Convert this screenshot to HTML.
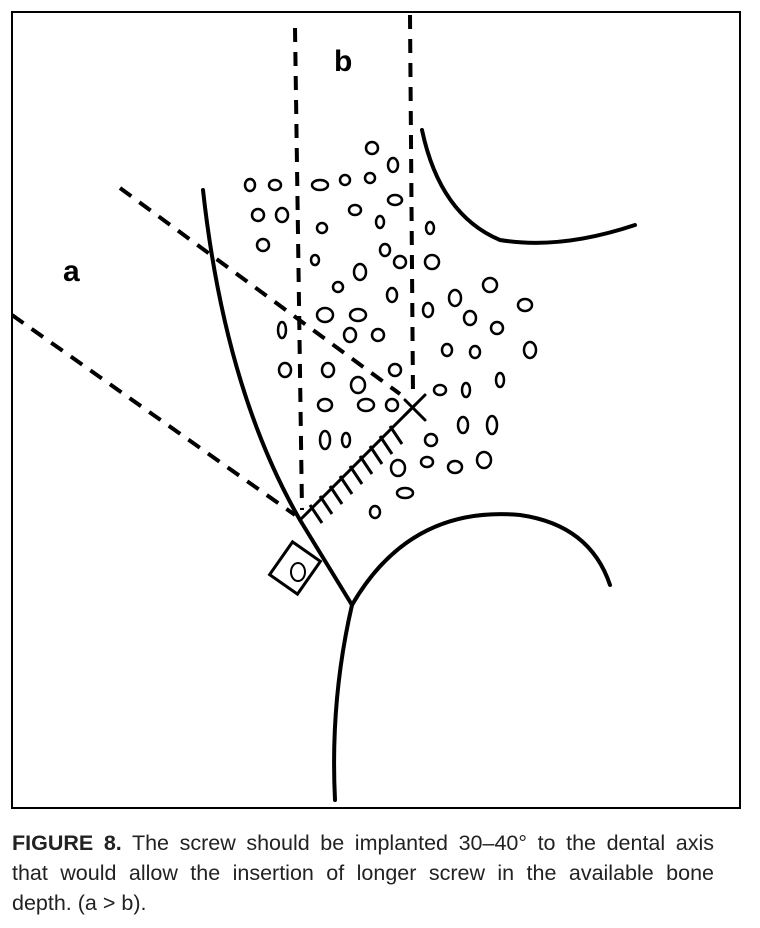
<!DOCTYPE html>
<html><head><style>
body{margin:0;background:#fff;width:760px;height:928px;overflow:hidden}
.cap{position:absolute;left:12px;top:828px;width:702px;font:21.5px/30px "Liberation Sans",sans-serif;color:#222}
.cap div{text-align:justify;text-align-last:justify;white-space:nowrap}
.cap div.l{text-align-last:left}
</style></head><body>
<svg width="760" height="820" style="position:absolute;left:0;top:0">
<rect x="12" y="12" width="728" height="796" fill="none" stroke="#000" stroke-width="2"/>
<g stroke="#000" stroke-width="4" fill="none" stroke-dasharray="14,10">
<line x1="295" y1="28" x2="302" y2="510"/>
<line x1="410" y1="15" x2="413" y2="395"/>
<line x1="120" y1="188" x2="400" y2="394"/>
<line x1="12" y1="315" x2="295" y2="515"/>
</g>
<g stroke="#000" fill="none" stroke-linecap="round">
<path d="M203 190 Q225 390 300 520 L352 605" stroke-width="4"/>
<path d="M352 605 Q330 700 335 800" stroke-width="4"/>
<path d="M352 605 Q410 505 520 515 Q590 525 610 585" stroke-width="4"/>
<path d="M422 130 Q440 215 500 240 Q560 250 635 225" stroke-width="4"/>
<path d="M300 520 L415 405" stroke-width="3"/>
<path d="M405 400 L425 420 M405 415 L425 395" stroke-width="3"/>
</g>
<g stroke="#000" stroke-width="3">
<line x1="310" y1="505" x2="322" y2="523"/><line x1="320" y1="496" x2="332" y2="514"/><line x1="330" y1="486" x2="342" y2="504"/><line x1="340" y1="476" x2="352" y2="494"/><line x1="350" y1="466" x2="362" y2="484"/><line x1="360" y1="456" x2="372" y2="474"/><line x1="370" y1="446" x2="382" y2="464"/><line x1="380" y1="436" x2="392" y2="454"/><line x1="390" y1="426" x2="402" y2="444"/>
</g>
<rect x="278" y="548" width="34" height="40" transform="rotate(35 295 568)" fill="none" stroke="#000" stroke-width="3"/>
<ellipse cx="298" cy="572" rx="7" ry="9" fill="none" stroke="#000" stroke-width="2"/>
<g fill="none" stroke="#000" stroke-width="2.5">
<ellipse cx="372" cy="148" rx="6" ry="6"/><ellipse cx="393" cy="165" rx="5" ry="7"/><ellipse cx="345" cy="180" rx="5" ry="5"/><ellipse cx="370" cy="178" rx="5" ry="5"/><ellipse cx="320" cy="185" rx="8" ry="5"/>
<ellipse cx="250" cy="185" rx="5" ry="6"/><ellipse cx="275" cy="185" rx="6" ry="5"/><ellipse cx="258" cy="215" rx="6" ry="6"/><ellipse cx="282" cy="215" rx="6" ry="7"/>
<ellipse cx="395" cy="200" rx="7" ry="5"/><ellipse cx="355" cy="210" rx="6" ry="5"/><ellipse cx="380" cy="222" rx="4" ry="6"/><ellipse cx="322" cy="228" rx="5" ry="5"/>
<ellipse cx="263" cy="245" rx="6" ry="6"/><ellipse cx="430" cy="228" rx="4" ry="6"/><ellipse cx="385" cy="250" rx="5" ry="6"/><ellipse cx="400" cy="262" rx="6" ry="6"/><ellipse cx="432" cy="262" rx="7" ry="7"/>
<ellipse cx="360" cy="272" rx="6" ry="8"/><ellipse cx="315" cy="260" rx="4" ry="5"/><ellipse cx="338" cy="287" rx="5" ry="5"/><ellipse cx="392" cy="295" rx="5" ry="7"/>
<ellipse cx="490" cy="285" rx="7" ry="7"/><ellipse cx="455" cy="298" rx="6" ry="8"/><ellipse cx="428" cy="310" rx="5" ry="7"/><ellipse cx="525" cy="305" rx="7" ry="6"/>
<ellipse cx="282" cy="330" rx="4" ry="8"/><ellipse cx="325" cy="315" rx="8" ry="7"/><ellipse cx="358" cy="315" rx="8" ry="6"/><ellipse cx="378" cy="335" rx="6" ry="6"/><ellipse cx="350" cy="335" rx="6" ry="7"/>
<ellipse cx="470" cy="318" rx="6" ry="7"/><ellipse cx="497" cy="328" rx="6" ry="6"/><ellipse cx="530" cy="350" rx="6" ry="8"/><ellipse cx="447" cy="350" rx="5" ry="6"/><ellipse cx="475" cy="352" rx="5" ry="6"/>
<ellipse cx="285" cy="370" rx="6" ry="7"/><ellipse cx="328" cy="370" rx="6" ry="7"/><ellipse cx="358" cy="385" rx="7" ry="8"/><ellipse cx="395" cy="370" rx="6" ry="6"/>
<ellipse cx="440" cy="390" rx="6" ry="5"/><ellipse cx="466" cy="390" rx="4" ry="7"/><ellipse cx="500" cy="380" rx="4" ry="7"/>
<ellipse cx="325" cy="405" rx="7" ry="6"/><ellipse cx="366" cy="405" rx="8" ry="6"/><ellipse cx="392" cy="405" rx="6" ry="6"/>
<ellipse cx="325" cy="440" rx="5" ry="9"/><ellipse cx="346" cy="440" rx="4" ry="7"/><ellipse cx="431" cy="440" rx="6" ry="6"/><ellipse cx="463" cy="425" rx="5" ry="8"/><ellipse cx="492" cy="425" rx="5" ry="9"/>
<ellipse cx="398" cy="468" rx="7" ry="8"/><ellipse cx="427" cy="462" rx="6" ry="5"/><ellipse cx="455" cy="467" rx="7" ry="6"/><ellipse cx="484" cy="460" rx="7" ry="8"/>
<ellipse cx="405" cy="493" rx="8" ry="5"/><ellipse cx="375" cy="512" rx="5" ry="6"/>
</g>
<text x="63" y="281" font-family="Liberation Sans,sans-serif" font-weight="bold" font-size="30">a</text>
<text x="334" y="71" font-family="Liberation Sans,sans-serif" font-weight="bold" font-size="30">b</text>
</svg>
<div class="cap">
<div><b>FIGURE 8.</b> The screw should be implanted 30–40° to the dental axis</div>
<div>that would allow the insertion of longer screw in the available bone</div>
<div class="l">depth. (a &gt; b).</div>
</div>
</body></html>
